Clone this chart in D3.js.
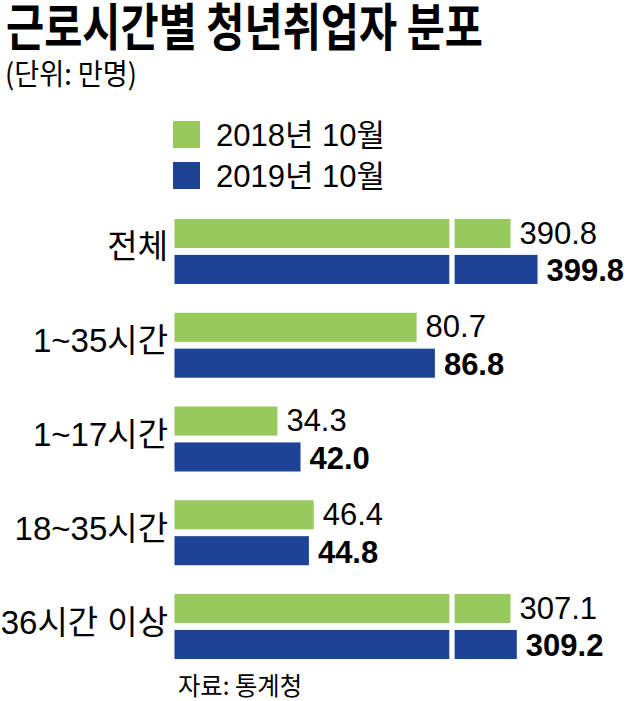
<!DOCTYPE html>
<html>
<head>
<meta charset="utf-8">
<script src="https://cdn.jsdelivr.net/npm/d3@7"></script>
<style>
  html, body { margin: 0; padding: 0; background: #fff; }
  svg { display: block; }
</style>
</head>
<body>
<div id="chart"></div>
<script>
// data
const categories = ["전체", "1~35시간", "1~17시간", "18~35시간", "36시간 이상"];
const seriesNames = ["2018년 10월", "2019년 10월"];
const values2018 = [390.8, 80.7, 34.3, 46.4, 307.1];
const values2019 = [399.8, 86.8, 42.0, 44.8, 309.2];

const colors = ["#97c95c", "#1d4397"];
const width = 627, height = 701;

const latin = "'Liberation Sans', Arial, 'Noto Sans CJK KR', sans-serif";
const korean = "'Noto Sans CJK KR', sans-serif";

const svg = d3.select("#chart").append("svg")
    .attr("width", width)
    .attr("height", height);

// title + unit
svg.append("text")
    .attr("x", 6).attr("y", 46)
    .attr("textLength", 477).attr("lengthAdjust", "spacingAndGlyphs")
    .style("font-family", korean).style("font-weight", 700).style("font-size", "51px")
    .text("근로시간별 청년취업자 분포");

svg.append("text")
    .attr("x", 5).attr("y", 85)
    .attr("textLength", 132).attr("lengthAdjust", "spacingAndGlyphs")
    .style("font-family", korean).style("font-size", "29px")
    .text("(단위: 만명)");

// legend
const legend = svg.append("g").selectAll("g")
    .data(seriesNames)
    .enter().append("g")
    .attr("transform", (d, i) => `translate(173,${121 + i * 41})`);

legend.append("rect")
    .attr("width", 27).attr("height", 27)
    .attr("fill", (d, i) => colors[i]);

legend.append("text")
    .attr("x", 43).attr("y", 25)
    .style("font-family", latin).style("font-size", "31px")
    .text(d => d);

// scales
const x = d3.scaleLinear().domain([0, 100]).range([174.5, 474.5]);
const y = d3.scaleBand().domain(categories).range([219, 659]).paddingInner(0.307).paddingOuter(0);
const ySub = d3.scaleBand().domain([0, 1]).range([0, y.bandwidth()]).paddingInner(0.19);

// big values get a cut in the bar
const cutLimit = 150, cutAt = 91.6, cutGap = 5.3, shownEnd = 112;

const rows = categories.map((c, i) => {
    const big = Math.max(values2018[i], values2019[i]) > cutLimit;
    const skip = big ? values2018[i] - shownEnd : 0;
    return [values2018[i], values2019[i]].map((v, s) => ({
        cat: c, series: s, value: v, shown: v - skip, cut: big
    }));
});

const groups = svg.append("g").selectAll("g")
    .data(rows)
    .enter().append("g")
    .attr("transform", (d, i) => `translate(0,${y(categories[i])})`);

groups.append("text")
    .attr("x", 168)
    .attr("y", y.bandwidth() / 2 + 7)
    .attr("text-anchor", "end")
    .style("font-family", latin).style("font-size", "33px")
    .text((d, i) => categories[i]);

const bars = groups.selectAll("g.bar")
    .data(d => d)
    .enter().append("g")
    .attr("class", "bar");

bars.append("rect")
    .attr("x", x(0))
    .attr("y", d => ySub(d.series))
    .attr("width", d => x(d.shown) - x(0))
    .attr("height", ySub.bandwidth())
    .attr("fill", d => colors[d.series]);

bars.filter(d => d.cut).append("rect")
    .attr("x", x(cutAt))
    .attr("y", d => ySub(d.series) - 1)
    .attr("width", cutGap)
    .attr("height", ySub.bandwidth() + 2)
    .attr("fill", "#fff");

bars.append("text")
    .attr("x", d => x(d.shown) + 9)
    .attr("y", d => ySub(d.series) + ySub.bandwidth() / 2 + (d.series ? 12 : 10))
    .style("font-family", latin).style("font-size", "31px")
    .style("font-weight", d => d.series ? 700 : 400)
    .text(d => d.value.toFixed(1));

// source
svg.append("text")
    .attr("x", 178).attr("y", 695)
    .attr("textLength", 124).attr("lengthAdjust", "spacingAndGlyphs")
    .style("font-family", korean).style("font-size", "25px")
    .text("자료: 통계청");
</script>
</body>
</html>
